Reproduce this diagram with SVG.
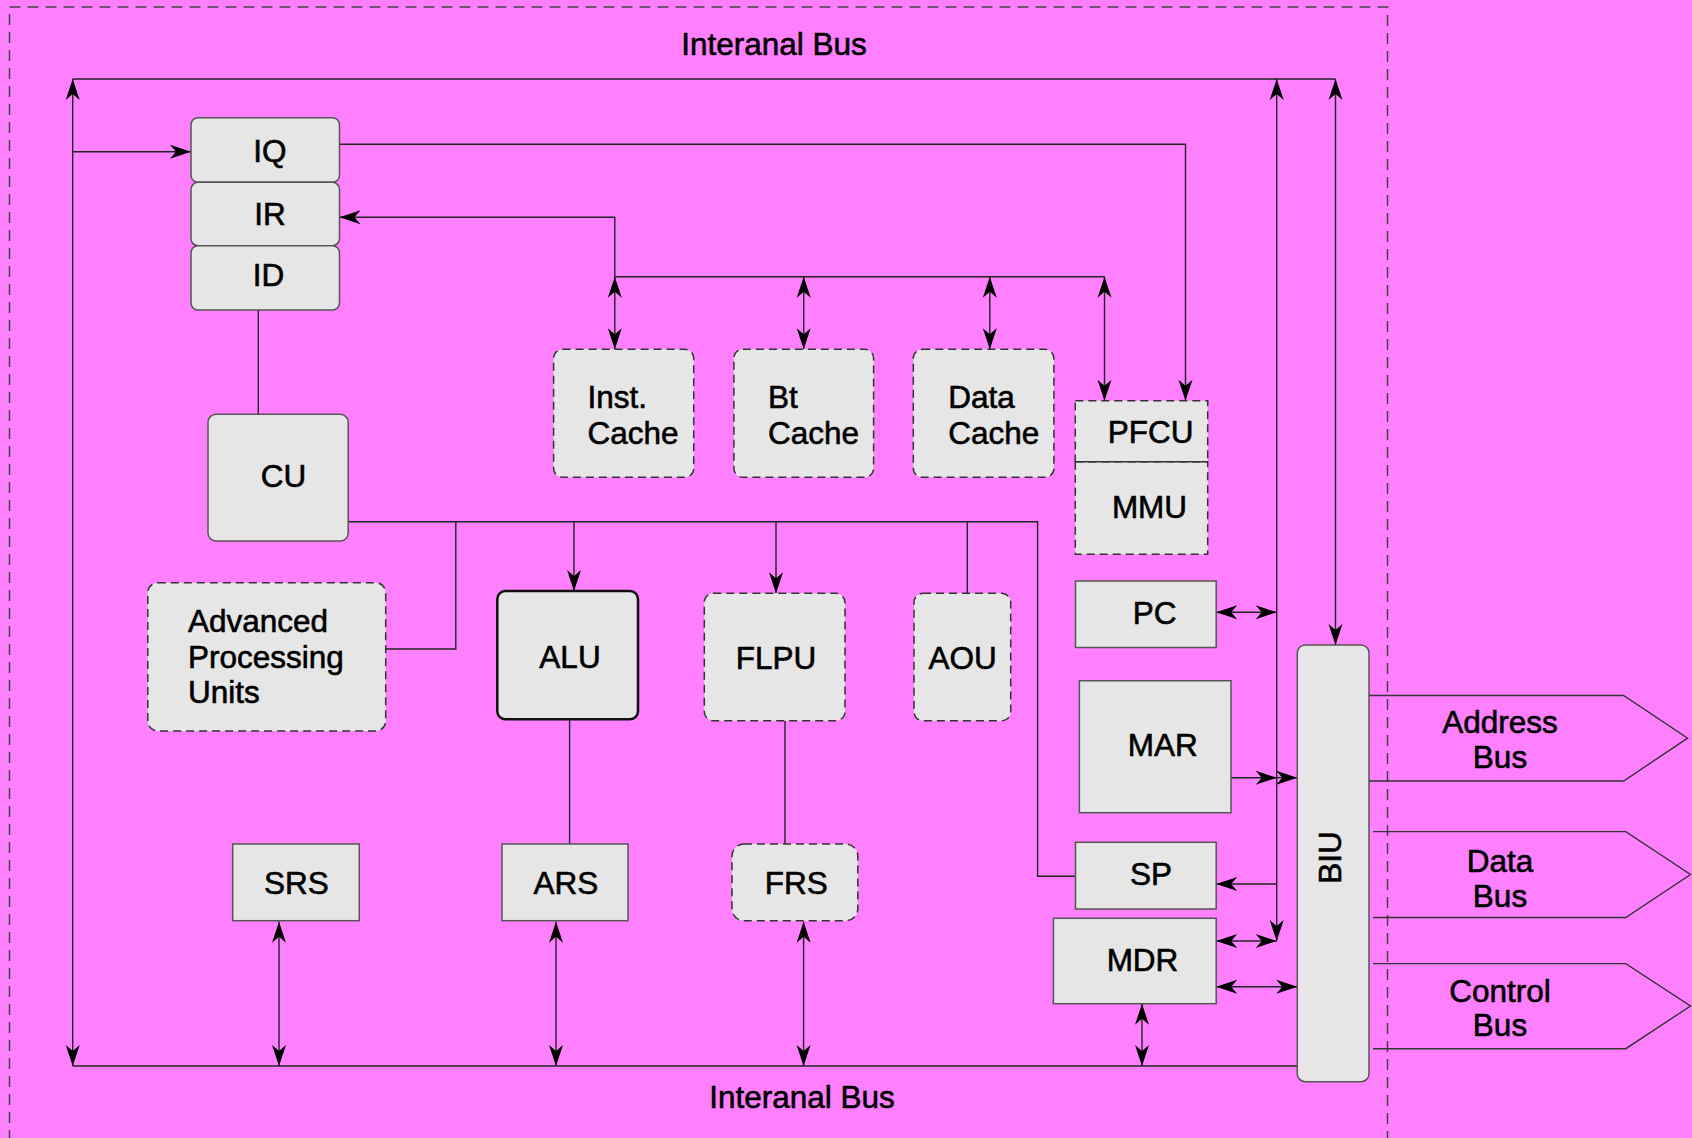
<svg xmlns="http://www.w3.org/2000/svg" width="1692" height="1138" viewBox="0 0 1692 1138">
<defs>
<style>
.lbl{font-family:"Liberation Sans",Arial,sans-serif;font-size:31.5px;fill:#000;stroke:#000;stroke-width:0.6}
.c{text-anchor:middle}
.box{fill:#E6E6E6;stroke:#555;stroke-width:1.5}
.dbox{fill:#E6E6E6;stroke:#333;stroke-width:1.5;stroke-dasharray:8 5}
.ln{fill:none;stroke:#222;stroke-width:1.4}
.bus{fill:none;stroke:#333;stroke-width:1.4}
</style>
<marker id="ah" viewBox="-22 -8 23 16" refX="0" refY="0" markerWidth="23" markerHeight="16" markerUnits="userSpaceOnUse" orient="auto-start-reverse">
<path d="M0,0 L-21,-7 L-15,0 L-21,7 Z" fill="#000"/>
</marker>
</defs>
<rect x="0" y="0" width="1692" height="1138" fill="#FF80FF"/>
<rect x="9.5" y="7" width="1378" height="1160" fill="none" stroke="#444" stroke-width="1.5" stroke-dasharray="11 7"/>
<text class="lbl c" x="774" y="55">Interanal Bus</text>
<text class="lbl c" x="802" y="1108">Interanal Bus</text>

<g id="connectors">
<line class="ln" x1="72.7" y1="79" x2="1335.5" y2="79"/>
<line class="ln" x1="72.7" y1="1066" x2="1297" y2="1066"/>
<line class="ln" x1="72.7" y1="79" x2="72.7" y2="1066" marker-start="url(#ah)" marker-end="url(#ah)"/>
<line class="ln" x1="72.7" y1="151.7" x2="191" y2="151.7" marker-end="url(#ah)"/>
<polyline class="ln" points="339.5,144.3 1185.5,144.3 1185.5,400.7" marker-end="url(#ah)"/>
<polyline class="ln" points="614.8,276.7 614.8,217.3 339.5,217.3" marker-end="url(#ah)"/>
<line class="ln" x1="614.8" y1="276.7" x2="1104.5" y2="276.7"/>
<line class="ln" x1="614.8" y1="276.7" x2="614.8" y2="349.3" marker-start="url(#ah)" marker-end="url(#ah)"/>
<line class="ln" x1="803.7" y1="276.7" x2="803.7" y2="349.3" marker-start="url(#ah)" marker-end="url(#ah)"/>
<line class="ln" x1="989.8" y1="276.7" x2="989.8" y2="349.3" marker-start="url(#ah)" marker-end="url(#ah)"/>
<line class="ln" x1="1104.5" y1="276.7" x2="1104.5" y2="400.7" marker-start="url(#ah)" marker-end="url(#ah)"/>
<line class="ln" x1="258.3" y1="310" x2="258.3" y2="414.3"/>
<polyline class="ln" points="348.2,521.7 1037.6,521.7 1037.6,876.2 1075.5,876.2"/>
<polyline class="ln" points="455.8,521.7 455.8,649 385.7,649"/>
<line class="ln" x1="574" y1="521.7" x2="574" y2="591" marker-end="url(#ah)"/>
<line class="ln" x1="776" y1="521.7" x2="776" y2="593.3" marker-end="url(#ah)"/>
<line class="ln" x1="967.3" y1="521.7" x2="967.3" y2="593.3"/>
<line class="ln" x1="569.6" y1="719.3" x2="569.6" y2="844"/>
<line class="ln" x1="785" y1="720.7" x2="785" y2="844"/>
<line class="ln" x1="279" y1="921.7" x2="279" y2="1066" marker-start="url(#ah)" marker-end="url(#ah)"/>
<line class="ln" x1="556" y1="921.7" x2="556" y2="1066" marker-start="url(#ah)" marker-end="url(#ah)"/>
<line class="ln" x1="803.6" y1="921.7" x2="803.6" y2="1066" marker-start="url(#ah)" marker-end="url(#ah)"/>
<line class="ln" x1="1142" y1="1003.7" x2="1142" y2="1066" marker-start="url(#ah)" marker-end="url(#ah)"/>
<line class="ln" x1="1276.7" y1="79" x2="1276.7" y2="941" marker-start="url(#ah)" marker-end="url(#ah)"/>
<line class="ln" x1="1335.5" y1="79" x2="1335.5" y2="645" marker-start="url(#ah)" marker-end="url(#ah)"/>
<line class="ln" x1="1216.2" y1="612.3" x2="1276.7" y2="612.3" marker-start="url(#ah)" marker-end="url(#ah)"/>
<line class="ln" x1="1231" y1="777.7" x2="1276.7" y2="777.7" marker-end="url(#ah)"/>
<line class="ln" x1="1276.7" y1="777.7" x2="1297.3" y2="777.7" marker-end="url(#ah)"/>
<line class="ln" x1="1276.7" y1="884" x2="1216.2" y2="884" marker-end="url(#ah)"/>
<line class="ln" x1="1216.2" y1="941" x2="1276.7" y2="941" marker-start="url(#ah)" marker-end="url(#ah)"/>
<line class="ln" x1="1216.2" y1="986.7" x2="1297.3" y2="986.7" marker-start="url(#ah)" marker-end="url(#ah)"/>
</g>

<g id="IQ"><rect class="box" x="191" y="117.7" width="148.5" height="64.6" rx="7"/><text class="lbl c" x="270" y="161.7">IQ</text></g>
<g id="IR"><rect class="box" x="191" y="182.3" width="148.5" height="63.4" rx="7"/><text class="lbl c" x="270" y="225">IR</text></g>
<g id="ID"><rect class="box" x="191" y="245.7" width="148.5" height="64.3" rx="7"/><text class="lbl c" x="268.5" y="285.5">ID</text></g>
<g id="CU"><rect class="box" x="208" y="414.3" width="140.2" height="126.7" rx="8"/><text class="lbl c" x="283.5" y="486.7">CU</text></g>

<g id="InstCache"><rect class="dbox" x="553.6" y="349.3" width="140.1" height="128" rx="9"/><text class="lbl" x="587.5" y="407.5">Inst.</text><text class="lbl" x="587.5" y="443.5">Cache</text></g>
<g id="BtCache"><rect class="dbox" x="733.9" y="349.3" width="139.7" height="128" rx="9"/><text class="lbl" x="768" y="407.5">Bt</text><text class="lbl" x="768" y="443.5">Cache</text></g>
<g id="DataCache"><rect class="dbox" x="913.3" y="349.3" width="140.6" height="128" rx="9"/><text class="lbl" x="948.3" y="407.5">Data</text><text class="lbl" x="948.3" y="443.5">Cache</text></g>
<g id="PFCU"><rect class="dbox" x="1075.3" y="400.7" width="132.4" height="61"/><text class="lbl c" x="1150.5" y="443.3">PFCU</text></g>
<g id="MMU"><rect class="dbox" x="1075.3" y="461.7" width="132.4" height="92.6"/><line x1="1075.3" y1="461.7" x2="1207.7" y2="461.7" stroke="#333" stroke-width="1.5"/><text class="lbl c" x="1149.5" y="518.3">MMU</text></g>

<g id="APU"><rect class="dbox" x="147.8" y="582.7" width="237.9" height="148.3" rx="10"/><text class="lbl" x="188" y="632.3">Advanced</text><text class="lbl" x="188" y="667.7">Processing</text><text class="lbl" x="188" y="703.3">Units</text></g>
<g id="ALU"><rect x="497.3" y="591" width="140.7" height="128.3" rx="8" fill="#E6E6E6" stroke="#111" stroke-width="2.5"/><text class="lbl c" x="570" y="668.3">ALU</text></g>
<g id="FLPU"><rect class="dbox" x="704.3" y="593.3" width="140.7" height="127.4" rx="9"/><text class="lbl c" x="776" y="669">FLPU</text></g>
<g id="AOU"><rect class="dbox" x="914" y="593.3" width="96.7" height="127.4" rx="9"/><text class="lbl c" x="962.7" y="669">AOU</text></g>

<g id="SRS"><rect class="box" x="232.7" y="844" width="126.6" height="76.7"/><text class="lbl c" x="296.3" y="893.5">SRS</text></g>
<g id="ARS"><rect class="box" x="502" y="844" width="126" height="76.7"/><text class="lbl c" x="566" y="894">ARS</text></g>
<g id="FRS"><rect class="dbox" x="732" y="844" width="125.8" height="76.7" rx="12"/><text class="lbl c" x="796.3" y="894">FRS</text></g>

<g id="PC"><rect class="box" x="1075.5" y="581" width="140.7" height="66.5"/><text class="lbl c" x="1154.6" y="623.9">PC</text></g>
<g id="MAR"><rect class="box" x="1079.4" y="680.7" width="151.6" height="132"/><text class="lbl c" x="1162.8" y="755.5">MAR</text></g>
<g id="SP"><rect class="box" x="1075.5" y="842.3" width="140.7" height="66.7"/><text class="lbl c" x="1151" y="884.5">SP</text></g>
<g id="MDR"><rect class="box" x="1053.4" y="918.3" width="162.8" height="85.4"/><text class="lbl c" x="1142.5" y="970.7">MDR</text></g>

<g id="BIU"><rect class="box" x="1297.3" y="645" width="71.7" height="436.7" rx="8"/><text class="lbl c" transform="translate(1341,857.5) rotate(-90)" x="0" y="0">BIU</text></g>

<g id="AddressBus"><polyline class="bus" points="1369,695.5 1623.6,695.5 1687.6,738.2 1623.6,781 1369,781"/><text class="lbl c" x="1500" y="733">Address</text><text class="lbl c" x="1500" y="768.2">Bus</text></g>
<g id="DataBus"><polyline class="bus" points="1373,831.6 1625.8,831.6 1690.5,874.5 1625.8,917.5 1373,917.5"/><text class="lbl c" x="1500" y="871.7">Data</text><text class="lbl c" x="1500" y="907">Bus</text></g>
<g id="ControlBus"><polyline class="bus" points="1373,963.6 1625.8,963.6 1690.5,1006 1625.8,1048.7 1373,1048.7"/><text class="lbl c" x="1500" y="1001.8">Control</text><text class="lbl c" x="1500" y="1036.3">Bus</text></g>
</svg>
